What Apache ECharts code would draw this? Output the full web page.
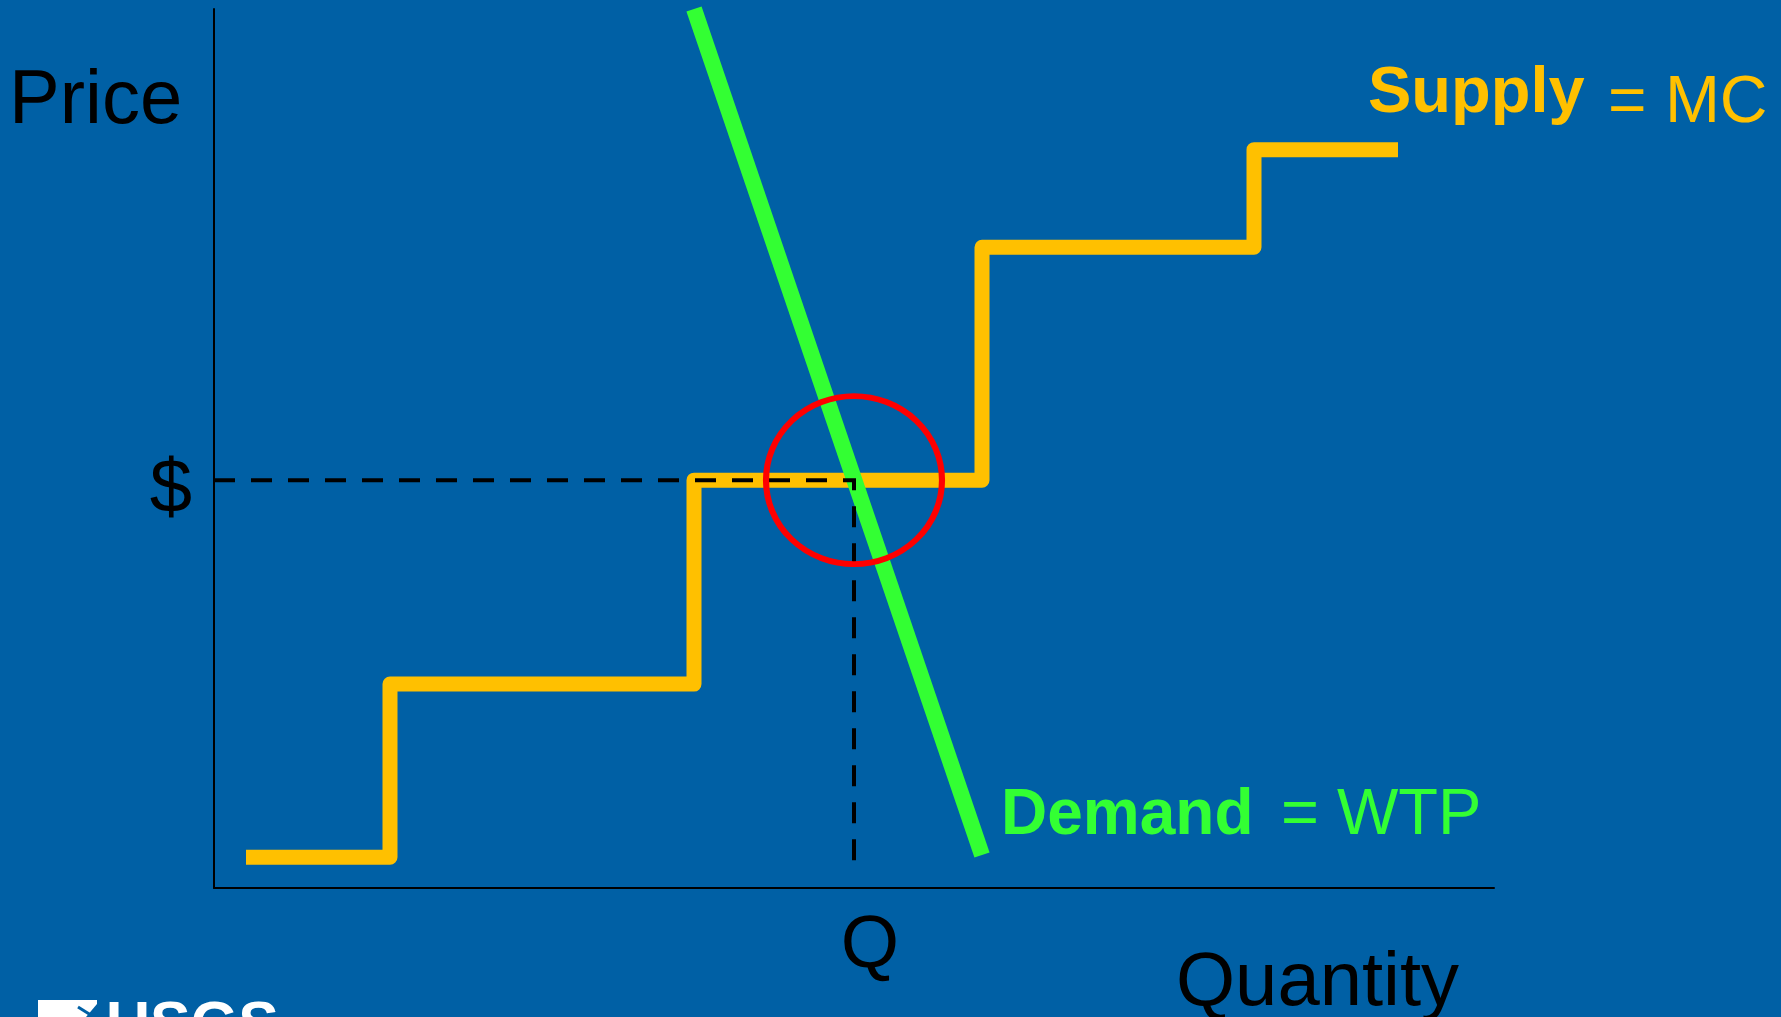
<!DOCTYPE html>
<html>
<head>
<meta charset="utf-8">
<title>Supply = MC, Demand = WTP</title>
<script src="https://cdn.jsdelivr.net/npm/echarts@6/dist/echarts.min.js"></script>
<style>
  html, body { margin: 0; padding: 0; background: #0060A5; }
  #chart { width: 1781px; height: 1017px; }
</style>
</head>
<body>
<div id="chart"></div>
<script>
// Stepped supply curve (marginal cost of each block of output)
const supplyQty = [2, 11, 30, 48, 65, 74];
const supplyCost = [3.5, 23.2, 46.4, 72.9, 84, 84];

// Straight demand curve (willingness to pay)
const demandQty = [30, 48];
const demandWtp = [100, 3.75];

// Market equilibrium
const eqQty = 40;
const eqPrice = 46.4;
const eqFloor = 1.5;

// Axis labels
const priceTickLabel = '$';
const qtyTickLabel = 'Q';

const BG = '#0060A5';
const GOLD = '#FFC000';
const GREEN = '#33FF33';
const FONT = '"Liberation Sans", Arial, Helvetica, sans-serif';

const chart = echarts.init(document.getElementById('chart'), null, { renderer: 'canvas' });

const supplyData = supplyQty.map((q, i) => [q, supplyCost[i]]);
const demandData = demandQty.map((q, i) => [q, demandWtp[i]]);
const guideData = [[0, eqPrice], [eqQty, eqPrice], [eqQty, eqFloor]];

function label(text, x, y, size, color, bold) {
  return {
    type: 'text',
    silent: true,
    style: {
      text: text,
      x: x,
      y: y,
      font: (bold ? 'bold ' : '') + size + 'px ' + FONT,
      fill: color,
      align: 'left',
      verticalAlign: 'middle',
      textAlign: 'left',
      textVerticalAlign: 'middle'
    }
  };
}

chart.setOption({
  backgroundColor: BG,
  animation: false,
  grid: { left: 214, right: 287, top: 9, bottom: 129, containLabel: false },
  xAxis: {
    type: 'value',
    min: 0,
    max: 80,
    axisLine: { show: true, onZero: false, lineStyle: { color: '#000', width: 2 } },
    axisTick: { show: false },
    splitLine: { show: false },
    axisLabel: {
      customValues: [eqQty],
      formatter: () => qtyTickLabel,
      color: '#000',
      fontFamily: FONT,
      fontSize: 75,
      margin: 21,
      padding: [0, 0, 0, 32]
    }
  },
  yAxis: {
    type: 'value',
    min: 0,
    max: 100,
    axisLine: { show: true, onZero: false, lineStyle: { color: '#000', width: 2 } },
    axisTick: { show: false },
    splitLine: { show: false },
    axisLabel: {
      customValues: [eqPrice],
      formatter: () => '{d|' + priceTickLabel + '}',
      margin: 22,
      rich: {
        d: {
          color: '#000',
          fontFamily: FONT,
          fontSize: 76,
          lineHeight: 76,
          padding: [22, 0, 0, 0]
        }
      }
    }
  },
  series: [
    {
      name: 'Supply',
      type: 'line',
      step: 'end',
      data: supplyData,
      showSymbol: false,
      symbol: 'none',
      clip: false,
      z: 2,
      lineStyle: { color: GOLD, width: 15, join: 'round', cap: 'butt' }
    },
    {
      name: 'Demand',
      type: 'line',
      data: demandData,
      showSymbol: false,
      symbol: 'none',
      clip: false,
      z: 3,
      lineStyle: { color: GREEN, width: 16, cap: 'butt' }
    },
    {
      name: 'Equilibrium guides',
      type: 'line',
      data: guideData,
      showSymbol: false,
      symbol: 'none',
      clip: false,
      z: 4,
      lineStyle: { color: '#000', width: 4, type: [21, 16], join: 'miter', cap: 'butt' }
    },
    {
      name: 'Equilibrium',
      type: 'scatter',
      data: [[eqQty, eqPrice]],
      symbol: 'circle',
      symbolSize: [176, 168],
      silent: true,
      z: 5,
      itemStyle: { color: 'rgba(0,0,0,0)', borderColor: '#FF0000', borderWidth: 6, opacity: 1 }
    }
  ],
  graphic: [
    label('Price', 9, 102, 76, '#000', false),
    label('Quantity', 1176, 984, 76, '#000', false),
    label('Supply', 1368, 94, 65, GOLD, true),
    label('= MC', 1608, 104, 66, GOLD, false),
    label('Demand', 1001, 816, 64, GREEN, true),
    label('= WTP', 1281, 816, 65, GREEN, false),
    // agency logo peeking in at the bottom-left corner
    {
      type: 'polygon',
      silent: true,
      shape: { points: [[38, 1000], [97, 1000], [97, 1004], [86, 1017], [38, 1017]] },
      style: { fill: '#fff' }
    },
    {
      type: 'line',
      silent: true,
      shape: { x1: 78, y1: 1007, x2: 94, y2: 1017 },
      style: { stroke: BG, lineWidth: 3 }
    },
    label('USGS', 106, 1027, 61, '#fff', true)
  ]
});
</script>
</body>
</html>
